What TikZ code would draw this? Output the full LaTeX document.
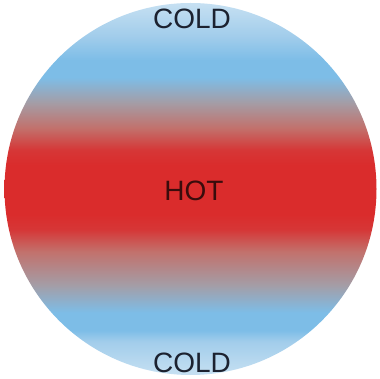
\documentclass[tikz,border=0pt]{standalone}
\usepackage{fontspec}
\setmainfont{Liberation Sans}
\definecolor{palecold}{HTML}{C6E0F2}
\definecolor{lightcold}{HTML}{A2CDEB}
\definecolor{cold}{HTML}{7DBDE7}
\definecolor{warmgray}{HTML}{A49DA6}
\definecolor{warm}{HTML}{C2716C}
\definecolor{hotedge}{HTML}{D63636}
\definecolor{hot}{HTML}{DA2C2C}
\definecolor{ink}{HTML}{1C2230}
\definecolor{hotink}{HTML}{3A0C0C}
\pgfdeclareverticalshading{coldhot}{100bp}{%
  color(0bp)=(palecold); color(25bp)=(palecold);
  color(29.5bp)=(lightcold); color(31bp)=(cold); color(33.4bp)=(cold);
  color(37.1bp)=(warmgray); color(41.6bp)=(warm);
  color(44.6bp)=(hotedge); color(46.6bp)=(hot);
  color(53.2bp)=(hot); color(55.2bp)=(hotedge);
  color(58.2bp)=(warm); color(61.6bp)=(warmgray);
  color(65bp)=(cold); color(67.3bp)=(cold);
  color(70.6bp)=(lightcold);
  color(75bp)=(palecold); color(100bp)=(palecold)}
\tikzset{label text/.style={font=\fontsize{28}{30}\selectfont, inner sep=0pt}}
\begin{document}
\begin{tikzpicture}[x=1pt,y=1pt]
  \useasboundingbox (0,0) rectangle (380,379);
  \shade[shading=coldhot] (190.5,190) circle (186);
  \node[label text, text=ink] (top) at (192,360) {COLD};
  \node[label text, text=hotink] (mid) at (194,188) {HOT};
  \node[label text, text=ink] (bottom) at (192,16) {COLD};
\end{tikzpicture}
\end{document}
